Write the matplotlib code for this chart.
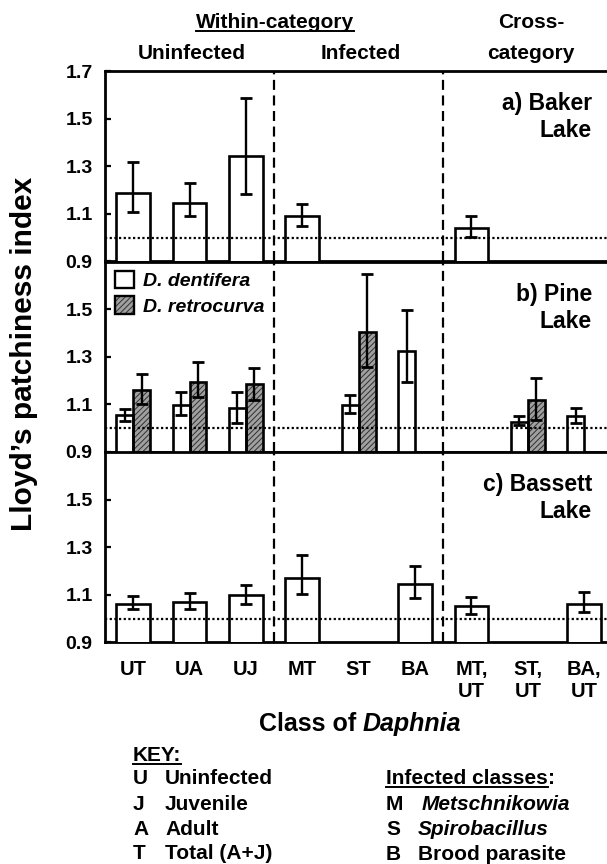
import numpy as np
import matplotlib
matplotlib.use('Agg')
import matplotlib.pyplot as plt
from matplotlib.lines import Line2D
from matplotlib.patches import Patch
from matplotlib.ticker import FormatStrFormatter

plt.rcParams['font.family'] = ['Liberation Sans', 'DejaVu Sans']
plt.rcParams['font.weight'] = 'bold'
plt.rcParams['hatch.linewidth'] = 0.7

nan = np.nan
classes = ['UT', 'UA', 'UJ', 'MT', 'ST', 'BA', 'MT,\nUT', 'ST,\nUT', 'BA,\nUT']

# a) Baker Lake (one species)
baker = [1.188, 1.147, 1.343, 1.089, nan, nan, 1.040, nan, nan]
baker_lo = [1.108, 1.089, 1.181, 1.049, nan, nan, 1.002, nan, nan]
baker_hi = [1.316, 1.230, 1.585, 1.140, nan, nan, 1.089, nan, nan]

# b) Pine Lake, D. dentifera
pine_dent = [1.053, 1.098, 1.084, nan, 1.098, 1.322, nan, 1.026, 1.050]
pine_dent_lo = [1.028, 1.053, 1.021, nan, 1.064, 1.195, nan, 1.011, 1.022]
pine_dent_hi = [1.080, 1.150, 1.150, nan, 1.138, 1.495, nan, 1.049, 1.085]

# b) Pine Lake, D. retrocurva
pine_retro = [1.158, 1.195, 1.183, nan, 1.403, nan, nan, 1.117, nan]
pine_retro_lo = [1.102, 1.129, 1.119, nan, 1.257, nan, nan, 1.035, nan]
pine_retro_hi = [1.227, 1.278, 1.252, nan, 1.649, nan, nan, 1.212, nan]

# c) Bassett Lake
bassett = [1.063, 1.070, 1.097, 1.172, nan, 1.147, 1.052, nan, 1.063]
bassett_lo = [1.042, 1.042, 1.060, 1.105, nan, 1.087, 1.017, nan, 1.027]
bassett_hi = [1.094, 1.106, 1.139, 1.266, nan, 1.221, 1.090, nan, 1.113]

W, H = 607, 864
fig = plt.figure(figsize=(W / 100, H / 100), dpi=100)
r = fig.canvas.get_renderer()

GRAY = '#a0a0a0'
HATCH_EDGE = '#303030'


def put(px, py, s, **kw):
    return fig.text(px / W, 1 - py / H, s, va='baseline', **kw)


def underline(t, py, lw=1.4):
    bb = t.get_window_extent(renderer=r)
    fig.add_artist(Line2D([bb.x0 / W, bb.x1 / W], [1 - py / H] * 2,
                          transform=fig.transFigure, color='black', lw=lw))


def draw_bars(ax, xs, vals, lo, hi, width, hatched=False):
    vals, lo, hi = np.array(vals), np.array(lo), np.array(hi)
    m = ~np.isnan(vals)
    if hatched:
        ax.bar(xs[m], vals[m], width, color=GRAY, edgecolor=HATCH_EDGE,
               hatch='//////', linewidth=0, zorder=2)
        ax.bar(xs[m], vals[m], width, fill=False, edgecolor='black', linewidth=1.9, zorder=3)
    else:
        ax.bar(xs[m], vals[m], width, color='white', edgecolor='black', linewidth=1.9, zorder=3)
    ax.errorbar(xs[m], vals[m], yerr=[vals[m] - lo[m], hi[m] - vals[m]], fmt='none',
                ecolor='black', elinewidth=1.7, capsize=4.2, capthick=2, zorder=5)


x = np.arange(len(classes))
tops = [71, 261.5, 452]
ph = 190.3
axes = []
for i, top in enumerate(tops):
    ax = fig.add_axes([105 / W, 1 - (top + ph) / H, 504 / W, ph / H])
    ax.set_xlim(-0.5, 8.44)
    ax.set_ylim(0.9, 1.7)
    ax.set_yticks([0.9, 1.1, 1.3, 1.5, 1.7] if i == 0 else [0.9, 1.1, 1.3, 1.5])
    ax.yaxis.set_major_formatter(FormatStrFormatter('%.1f'))
    ax.tick_params(axis='y', direction='in', length=4, width=1.6, labelsize=14, pad=9)
    ax.set_xticks(x)
    ax.tick_params(axis='x', length=0, labelsize=14.5, pad=13)
    if i < 2:
        ax.set_xticklabels([])
    else:
        ax.set_xticklabels(classes)
    for s in ax.spines.values():
        s.set_linewidth(2.0)
    for xv in (2.5, 5.5):
        ax.axvline(xv, color='black', lw=1.6, ls=(0, (4.5, 2.5)), zorder=4)
    ax.axhline(1.0, color='black', lw=1.6, ls=(0, (1, 1.1)), zorder=4)
    axes.append(ax)

draw_bars(axes[0], x, baker, baker_lo, baker_hi, 0.6)
draw_bars(axes[1], x - 0.15, pine_dent, pine_dent_lo, pine_dent_hi, 0.3)
draw_bars(axes[1], x + 0.15, pine_retro, pine_retro_lo, pine_retro_hi, 0.3, hatched=True)
draw_bars(axes[2], x, bassett, bassett_lo, bassett_hi, 0.6)

h1 = Patch(facecolor='white', edgecolor='black', linewidth=1.7)
h2a = Patch(facecolor=GRAY, edgecolor=HATCH_EDGE, hatch='//////', linewidth=0)
h2b = Patch(fill=False, edgecolor='black', linewidth=1.7)
axes[1].legend([h1, (h2a, h2b)], ['D. dentifera', 'D. retrocurva'], loc='upper left',
               bbox_to_anchor=(0.02, 0.95), frameon=False, borderpad=0, borderaxespad=0,
               handlelength=0.95, handleheight=1.0, handletextpad=0.5, labelspacing=0.3,
               prop={'style': 'italic', 'weight': 'bold', 'size': 14})

# panel names
for top, name in zip(tops, ['a) Baker', 'b) Pine', 'c) Bassett']):
    put(592, top + 39, name, ha='right', fontsize=16.5)
    put(592, top + 66, 'Lake', ha='right', fontsize=16.5)

# headers
t = put(275, 28, 'Within-category', ha='center', fontsize=15)
underline(t, 31)
put(192, 59, 'Uninfected', ha='center', fontsize=15)
put(361, 59, 'Infected', ha='center', fontsize=15)
put(531, 28, 'Cross-', ha='center', fontsize=15)
put(531, 59, 'category', ha='center', fontsize=15)

# axis labels
fig.text(24 / W, 1 - 354 / H, "Lloyd\u2019s patchiness index", rotation=90,
         ha='center', va='center', fontsize=21.5)
t1 = put(0, 731, 'Class of', fontsize=18)
t2 = put(0, 731, 'Daphnia', fontsize=18, style='italic')
w1 = t1.get_window_extent(renderer=r).width
w2 = t2.get_window_extent(renderer=r).width
start = 360 - (w1 + 6 + w2) / 2
t1.set_x(start / W)
t2.set_x((start + w1 + 6) / W)

# key
t = put(133, 761, 'KEY:', fontsize=15)
underline(t, 764)
key_rows = [('U', 'Uninfected'), ('J', 'Juvenile'), ('A', 'Adult'), ('T', 'Total (A+J)')]
for (k, txt), py in zip(key_rows, [784, 810, 835, 859]):
    put(133, py, k, fontsize=15)
    put(165, py, txt, fontsize=15)

t = put(386, 784, 'Infected classes', fontsize=15)
underline(t, 787)
put(386 + t.get_window_extent(renderer=r).width, 784, ':', fontsize=15)
inf_rows = [('M', 'Metschnikowia', 422, 'italic'), ('S', 'Spirobacillus', 418, 'italic'),
            ('B', 'Brood parasite', 418, 'normal')]
for (k, txt, px, st), py in zip(inf_rows, [810, 835, 860]):
    put(386, py, k, fontsize=15)
    put(px, py, txt, fontsize=15, style=st)

fig.savefig('out.png', dpi=100)
